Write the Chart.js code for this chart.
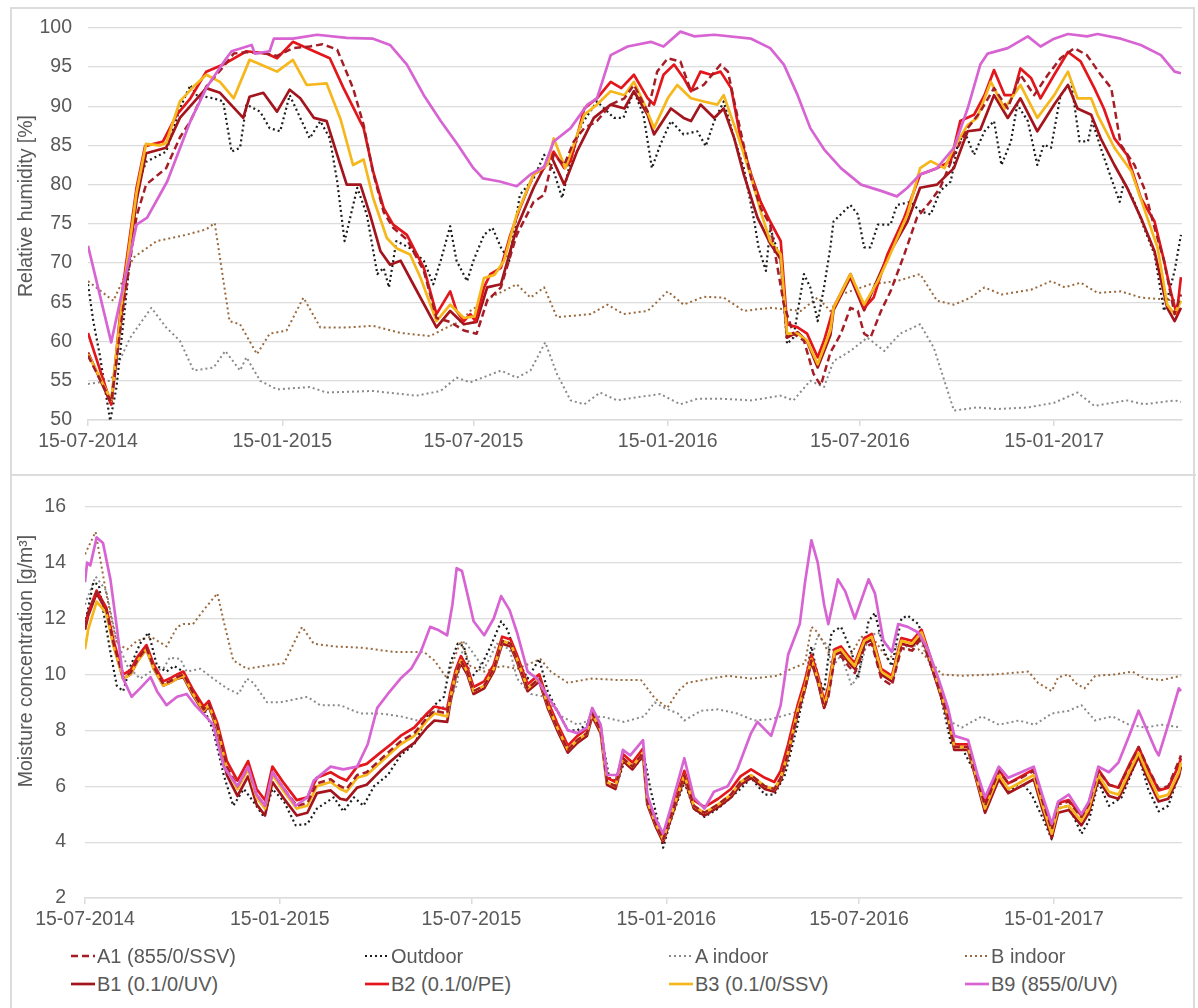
<!DOCTYPE html>
<html><head><meta charset="utf-8">
<script src="https://cdn.jsdelivr.net/npm/chart.js@4.4.1/dist/chart.umd.min.js"></script>
<style>
html,body{margin:0;padding:0;background:#fff;}
body{width:1198px;height:1008px;position:relative;overflow:hidden;font-family:"Liberation Sans",Arial,sans-serif;color:#595959;}
#frame{position:absolute;left:10px;top:7px;width:1185px;height:1020px;border:2px solid #dcdcdc;box-sizing:border-box;}
#sep{position:absolute;left:10px;top:474px;width:1186px;height:2px;background:#dcdcdc;}
#c1{position:absolute;left:0;top:0;}
#c2{position:absolute;left:0;top:476px;}
.ytitle{position:absolute;font-size:19.5px;line-height:1;white-space:nowrap;color:#595959;transform:translate(-50%,-50%) rotate(-90deg);}
.leg{position:absolute;font-size:20px;line-height:22px;white-space:nowrap;display:flex;align-items:center;}
.leg svg{margin-right:2px;}
</style></head>
<body>
<div id="frame"></div>
<div id="sep"></div>
<canvas id="c1" width="1198" height="470"></canvas>
<canvas id="c2" width="1198" height="470"></canvas>
<div class="ytitle" style="left:26px;top:206px;">Relative humidity [%]</div>
<div class="ytitle" style="left:26px;top:661px;">Moisture concentration [g/m³]</div>
<div id="legend"></div>
<script>
// ---------- tick labels (x = days since 15-07-2014) ----------
const tickDays = [0, 184, 365, 549, 731, 915];
const tickLabels = ['15-07-2014','15-01-2015','15-07-2015','15-01-2016','15-07-2016','15-01-2017'];
const seriesNames = ['A1 (855/0/SSV)','Outdoor','A indoor','B indoor','B1 (0.1/0/UV)','B2 (0.1/0/PE)','B3 (0.1/0/SSV)','B9 (855/0/UV)'];

// ---------- Relative humidity [%]  ([day, value]) ----------
const rhA1 = [[0,58.2],[22,52.3],[33,64],[46,76],[55,80],[74,82.1],[87,86],[97,88.1],[112,92.5],[128,95],[138,96.7],[150,96.9],[169,96.7],[179,96.4],[194,97.4],[210,97.6],[222,97.9],[236,97.2],[251,92.3],[261,87.6],[270,81.5],[280,76.5],[289,74.5],[302,73],[318,69],[330,63],[343,62.5],[356,61.4],[368,61],[378,65.2],[391,66.9],[406,73.6],[422,77.8],[432,78.7],[441,83.8],[451,82.5],[460,85.5],[470,87.2],[482,88.1],[495,90.2],[508,91],[517,92.7],[530,89.3],[539,94.4],[549,96.1],[561,95.7],[571,91.9],[583,92.7],[599,95.3],[606,94.4],[618,86.8],[628,80.8],[637,77],[646,74.9],[659,64.7],[668,61],[678,60.1],[687,55.9],[694,54.4],[703,58.6],[713,61],[722,64.3],[729,63.9],[735,61],[741,60.5],[751,63.9],[760,66.4],[773,71.1],[785,75.8],[798,77.9],[807,79.6],[820,83.8],[833,87.2],[845,89.3],[858,92.3],[871,89.7],[883,94],[896,91.4],[909,94],[921,96.1],[934,97.4],[946,96.5],[959,94],[969,92.3],[978,85.1],[991,82.5],[1000,79.6],[1010,74.5],[1019,70.3],[1029,63.5],[1035,66]];
const rhOutdoor = [[0,67.3],[5,62.6],[11,58.4],[21,49.9],[27,54.2],[37,66.9],[46,79.6],[55,82.9],[74,84.2],[87,89.7],[97,92.7],[103,91.4],[119,91],[128,90.6],[136,84.2],[144,84.7],[150,90.2],[163,89.3],[172,87.2],[182,86.8],[191,91.4],[201,88.5],[210,85.9],[220,88.1],[229,85.9],[236,80.4],[243,72.8],[255,79.6],[264,76.2],[274,68.6],[280,69.4],[285,66.9],[292,72.8],[305,71.9],[318,70.3],[327,67.3],[334,70.3],[343,74.7],[349,70.3],[359,67.7],[365,70.3],[375,73.6],[383,74.5],[391,72],[399,70.3],[409,78.7],[422,80.8],[432,83.8],[441,81.7],[449,78.3],[457,83],[467,87.6],[482,90.6],[498,88.5],[507,88.5],[517,91.9],[526,88.9],[534,82.1],[542,85.1],[552,88.1],[564,86.4],[577,86.8],[585,84.9],[593,88.1],[602,90.6],[612,85.9],[621,82.1],[631,75.3],[635,72],[642,69],[646,74.5],[656,70.3],[662,59.7],[668,60.5],[678,68.6],[684,66.9],[691,62.6],[697,66.9],[703,72],[706,75.3],[722,77.4],[729,76.2],[735,72],[741,72],[748,74.9],[760,74.9],[766,77.4],[779,77.8],[788,76.6],[798,76.2],[807,79.2],[817,80.4],[823,84.7],[830,86.8],[839,83.8],[849,86.8],[858,88.1],[865,82.5],[874,85.5],[880,90.2],[890,88.1],[899,82.5],[905,85.1],[912,84.7],[921,91.4],[931,93.1],[939,85.5],[947,85.5],[951,88.1],[959,84.7],[969,80.8],[977,77.8],[981,80.4],[991,77.8],[1000,74.5],[1010,71.1],[1019,63.9],[1029,69],[1035,73.6]];
const rhAIndoor = [[0,54.6],[21,55],[40,60.5],[60,64.3],[74,61.8],[87,60.1],[100,56.3],[119,56.7],[130,58.8],[144,56.3],[150,58],[163,55],[179,53.9],[210,54.2],[226,53.5],[270,53.7],[311,53.1],[334,53.7],[349,55.4],[362,54.8],[391,56.3],[406,55.4],[419,56.3],[433,59.9],[444,55.9],[457,52.5],[470,52],[485,53.5],[501,52.5],[520,52.9],[542,53.3],[561,52],[577,52.7],[602,52.7],[628,52.5],[656,53.1],[668,52.5],[684,55],[697,54.2],[706,57.5],[722,58.8],[738,60.5],[754,58.8],[769,61],[788,62.2],[801,59.2],[811,55],[820,51.2],[842,51.6],[861,51.4],[890,51.6],[915,52.2],[937,53.5],[953,51.8],[984,52.5],[1000,52],[1029,52.5],[1035,52.3]];
const rhBIndoor = [[0,67.7],[24,65.2],[43,70.7],[65,72.8],[93,73.6],[112,74.3],[120,75.1],[134,62.6],[144,62.2],[160,58.4],[172,61],[188,61.4],[204,65.6],[220,61.8],[245,61.8],[270,62],[296,61.1],[324,60.7],[340,61.8],[353,62.6],[362,63.9],[381,65.6],[406,67.3],[419,65.6],[432,66.9],[444,63.1],[476,63.5],[492,64.7],[507,63.5],[530,63.9],[549,66.4],[564,64.7],[583,65.7],[602,65.6],[621,63.9],[646,64.3],[675,63.9],[691,65.6],[703,63.9],[713,66],[741,67.3],[766,67.7],[788,68.6],[804,65.2],[820,64.7],[836,65.6],[849,66.9],[865,66],[893,66.6],[912,67.7],[925,66.9],[940,67.5],[956,66.2],[978,66.4],[997,65.6],[1035,65.2]];
const rhB1 = [[0,58.6],[22,52],[33,65],[46,78],[55,84],[74,84.7],[87,88.5],[112,92.3],[125,91.7],[147,88.5],[153,91.2],[166,91.7],[179,89.3],[191,92.1],[201,91],[214,88.5],[226,88.1],[236,83.8],[245,80],[258,80],[267,76.2],[277,71.5],[286,69.8],[296,70.3],[308,67.3],[330,61.8],[343,63.9],[356,62.2],[368,62.5],[378,66.9],[391,67.3],[406,74.5],[422,79.6],[438,83.8],[451,80],[463,84.2],[479,88.5],[495,90.2],[508,89.7],[517,91.9],[530,88.9],[536,86.4],[552,89.7],[564,88.5],[571,88.1],[580,90.2],[593,88.5],[602,89.7],[612,85.9],[621,81.3],[634,75.8],[646,72.5],[656,70.5],[662,60.5],[672,61.2],[681,60],[691,56.7],[703,60.8],[706,64],[722,68.2],[735,64],[757,70.8],[776,75.3],[788,79.6],[804,80],[820,82.1],[833,86.8],[845,87],[858,91.4],[871,88.5],[883,91],[899,86.8],[915,90.2],[928,92.7],[937,89.7],[950,88.9],[959,85.9],[972,82.5],[984,79.6],[997,75.8],[1010,71.5],[1022,64.3],[1029,62.6],[1035,64.3]];
const rhB2 = [[0,61.1],[22,52],[33,66.9],[46,79.6],[54,84.9],[71,85.5],[84,88.9],[97,91],[112,94.4],[128,95.3],[150,97],[169,96.7],[179,96.1],[194,98.2],[214,97],[229,96.1],[242,92.3],[261,87.2],[270,81.7],[280,77],[289,74.9],[302,73.6],[318,69.4],[330,63.5],[343,66.4],[349,63.9],[356,62.6],[362,63.5],[367,62.6],[375,66.9],[381,68.6],[391,69.4],[400,73.6],[409,77],[422,81.3],[432,82.1],[441,84.2],[451,82.1],[457,83],[470,89.7],[482,91],[495,93.1],[505,92.3],[517,94],[530,91],[536,90.2],[545,94],[555,95.3],[564,93.6],[571,91.9],[580,94.4],[590,94],[599,94.4],[609,92.3],[618,85.9],[628,81.3],[637,77.8],[646,75.3],[656,72.8],[662,62.2],[672,61.8],[681,61],[691,58],[697,60.1],[706,64.3],[722,68.6],[735,64.3],[744,65.6],[757,71.1],[773,75.8],[788,81.3],[804,82.1],[817,83],[826,88.1],[839,88.9],[849,91.4],[858,94.6],[868,91.4],[876,91.4],[883,94.8],[893,93.6],[902,91],[915,94],[928,96.9],[940,95.7],[953,92.3],[962,89.7],[972,85.9],[984,83.8],[997,78.3],[1010,75.3],[1019,70.3],[1026,66],[1031,63.5],[1035,68.2]];
const rhB3 = [[0,58.4],[22,52.5],[33,66],[46,79],[55,85.2],[68,85],[74,85.3],[87,90.6],[100,92.5],[112,94],[125,93.1],[138,91],[153,95.9],[169,95],[179,94.4],[194,95.9],[207,92.7],[226,92.9],[239,88.4],[251,82.5],[261,83.2],[270,78.3],[283,73.2],[292,71.9],[305,71.1],[315,68.1],[330,62.6],[343,64.7],[356,63],[366,63.2],[375,68.1],[385,68.5],[394,70.3],[406,76.2],[422,81.3],[435,82.5],[441,85.9],[452,82.1],[460,85.1],[470,88.9],[482,90.2],[495,91.9],[508,91.4],[517,93.1],[527,90.2],[536,87.2],[549,91],[558,92.7],[571,91],[583,90.6],[596,90.2],[602,91.4],[615,86.4],[628,81],[637,76.6],[646,72.8],[656,71.1],[662,61],[672,61],[681,60.1],[691,57.1],[703,61.4],[706,64.3],[722,68.6],[735,64.7],[748,67.7],[757,70.3],[776,76.2],[788,82.1],[798,83],[811,82.1],[820,84.7],[833,87.6],[842,88.5],[855,93.1],[868,89.7],[883,92.7],[899,88.5],[915,91.4],[928,94.4],[937,91],[950,91],[956,88.9],[972,84.7],[988,81.7],[1000,77],[1013,71.9],[1022,64.7],[1029,63.5],[1035,65.2]];
const rhB9 = [[0,72.2],[22,59.9],[46,74.9],[56,75.8],[75,80.4],[97,88.1],[112,92.3],[131,96.1],[136,97],[155,97.8],[158,96.7],[172,97],[176,98.6],[194,98.6],[217,99.1],[245,98.7],[270,98.6],[286,97.8],[302,95.3],[318,91.4],[334,88.1],[349,85.3],[365,82.1],[374,80.8],[390,80.4],[406,79.8],[419,81.3],[432,82.3],[441,85.5],[457,87.2],[473,90.2],[482,91],[495,96.5],[511,97.6],[533,98.2],[545,97.6],[561,99.5],[574,98.9],[593,99.1],[628,98.6],[646,97.4],[659,95.3],[672,91.4],[684,87.2],[697,84.5],[713,82.1],[732,80],[751,79.2],[766,78.5],[776,79.6],[788,81.3],[804,82.1],[820,84.7],[833,89.7],[845,95.3],[852,96.7],[871,97.4],[890,98.9],[902,97.6],[915,98.6],[928,99.2],[946,98.9],[956,99.2],[978,98.6],[997,97.8],[1016,96.5],[1029,94.4],[1035,94.2]];

// ---------- Moisture concentration [g/m3] ----------
const mcDays = [0,3,11,20,27,36,43,50,58,65,74,80,87,93,102,112,117,125,134,144,154,162,170,177,188,200,210,219,232,241,247,257,266,279,289,298,311,323,330,342,345,350,355,361,367,377,386,394,402,408,418,429,437,446,456,465,474,479,487,493,501,508,517,527,531,539,546,553,566,575,585,598,610,619,629,642,651,657,664,673,680,686,692,698,702,708,714,721,727,736,743,752,762,771,781,790,796,806,815,821,834,843,850,863,872,884,896,904,913,919,929,941,948,957,967,976,986,995,1004,1014,1023,1033,1035];
const mcA1 = [11.7,12.2,12.95,12.35,11.1,9.9,10.05,10.55,10.95,10.25,9.65,9.75,9.9,10.0,9.35,8.75,8.95,8.15,6.7,6.0,6.7,5.7,5.3,6.5,5.9,5.3,5.4,6.1,6.25,6.0,5.9,6.4,6.5,6.95,7.3,7.6,7.9,8.45,8.7,8.6,9.15,10.0,10.5,10.1,9.4,9.6,10.2,11.2,11.1,10.55,9.5,9.85,8.9,8.1,7.3,7.65,7.9,8.6,8.0,6.15,6.0,7.0,6.7,7.2,5.45,4.65,4.1,4.9,6.4,5.3,5.05,5.35,5.7,6.15,6.4,6.0,5.9,6.3,7.2,8.6,9.5,10.5,9.8,8.8,9.2,10.55,10.65,10.3,10.05,10.95,11.1,9.85,9.6,10.95,10.85,11.3,10.65,9.55,8.5,7.4,7.4,6.2,5.3,6.55,6.1,6.3,6.55,5.5,4.45,5.35,5.45,4.9,5.35,6.55,6.05,5.95,6.7,7.4,6.65,5.9,6.0,6.9,7.1];
const mcB1 = [11.6,12.1,12.9,12.3,11.05,9.85,10.0,10.5,10.9,10.2,9.6,9.7,9.85,9.9,9.25,8.65,8.85,8.0,6.4,5.65,6.35,5.35,4.95,6.15,5.55,4.95,5.05,5.75,5.85,5.55,5.5,5.95,6.05,6.55,6.9,7.2,7.55,8.1,8.35,8.3,9.0,9.9,10.4,10.0,9.3,9.5,10.1,11.1,11.0,10.45,9.4,9.75,8.8,8.0,7.2,7.55,7.8,8.5,7.9,6.05,5.9,6.9,6.6,7.1,5.35,4.55,4.0,4.8,6.3,5.2,4.95,5.25,5.6,6.05,6.3,5.9,5.8,6.2,7.1,8.6,9.5,10.45,9.75,8.8,9.3,10.7,10.8,10.45,10.2,11.1,11.25,10.0,9.75,11.1,11.0,11.4,10.7,9.5,8.4,7.3,7.3,6.05,5.05,6.25,5.75,6.0,6.25,5.2,4.15,5.05,5.15,4.6,5.05,6.25,5.65,5.55,6.35,7.05,6.25,5.45,5.55,6.35,6.7];
const mcB2 = [11.7,12.2,13.0,12.4,11.2,10.0,10.15,10.65,11.05,10.35,9.75,9.85,10.0,10.1,9.45,8.85,9.05,8.25,6.9,6.2,6.9,5.9,5.5,6.7,6.1,5.5,5.6,6.3,6.5,6.3,6.2,6.7,6.8,7.2,7.5,7.8,8.1,8.6,8.85,8.75,9.35,10.15,10.65,10.25,9.55,9.75,10.35,11.35,11.25,10.7,9.65,10.0,9.05,8.25,7.45,7.8,8.05,8.75,8.15,6.3,6.15,7.15,6.85,7.35,5.6,4.8,4.25,5.05,6.55,5.5,5.25,5.55,5.9,6.35,6.6,6.3,6.15,6.55,7.5,8.9,9.8,10.7,10.0,9.05,9.55,10.9,11.0,10.65,10.4,11.3,11.45,10.2,9.95,11.3,11.2,11.6,10.9,9.7,8.6,7.5,7.5,6.3,5.4,6.6,6.1,6.35,6.6,5.55,4.5,5.4,5.5,4.95,5.4,6.6,6.05,5.95,6.75,7.4,6.6,5.85,5.95,6.75,7.0];
const mcB3 = [10.9,11.6,12.6,12.2,11,9.85,10,10.5,10.9,10.2,9.6,9.7,9.85,9.95,9.3,8.7,8.9,8.1,6.6,5.9,6.6,5.6,5.2,6.4,5.8,5.2,5.3,6.0,6.15,5.9,5.8,6.3,6.4,6.85,7.2,7.5,7.8,8.35,8.6,8.5,9.15,10,10.5,10.1,9.4,9.6,10.2,11.2,11.1,10.55,9.5,9.85,8.9,8.1,7.3,7.65,7.9,8.6,8.0,6.15,6.0,7.0,6.7,7.2,5.45,4.65,4.1,4.9,6.4,5.3,5.05,5.35,5.7,6.15,6.4,6.0,5.9,6.3,7.2,8.7,9.6,10.55,9.85,8.9,9.4,10.8,10.9,10.55,10.3,11.2,11.35,10.1,9.85,11.2,11.1,11.5,10.8,9.6,8.5,7.4,7.4,6.15,5.2,6.4,5.9,6.15,6.4,5.35,4.3,5.2,5.3,4.75,5.2,6.4,5.8,5.7,6.5,7.2,6.4,5.6,5.7,6.5,6.85];
const mcOutdoor = [[0,11.8],[8,13.3],[13,13.2],[19,11.9],[24,10.8],[30,9.6],[36,9.4],[43,10.3],[52,11.1],[60,11.5],[68,10.3],[77,10.1],[84,10.3],[93,10.1],[102,9.3],[112,8.8],[121,8.0],[131,6.4],[140,5.3],[150,5.9],[159,5.45],[169,4.9],[177,5.9],[188,5.45],[199,4.6],[210,4.65],[219,5.2],[235,5.6],[244,5.1],[254,5.6],[263,5.3],[273,6.0],[286,6.4],[298,7.1],[311,7.5],[323,8.5],[330,8.9],[339,9.2],[345,10.4],[352,11.1],[358,11],[364,9.85],[374,10.3],[383,11],[393,11.9],[399,11.6],[408,10.55],[418,9.85],[429,10.55],[437,9.4],[446,8.7],[456,8.0],[465,8.0],[474,8.2],[479,8.7],[487,8.0],[495,6.3],[503,6.15],[509,6.85],[519,6.7],[528,7.1],[534,5.9],[541,4.75],[546,3.8],[553,4.75],[566,6.15],[575,5.2],[585,4.9],[598,5.2],[610,5.6],[619,5.9],[629,6.3],[642,5.7],[651,5.7],[661,6.4],[673,8.2],[680,9.7],[686,11],[692,9.95],[698,9.4],[705,11.5],[714,11.7],[724,10.8],[730,9.85],[740,11.9],[746,12.2],[755,10.8],[762,10.3],[771,12],[777,12.1],[787,11.8],[796,10.8],[806,9.6],[818,7.5],[828,7.4],[840,6.5],[850,5.1],[863,6.4],[872,5.8],[884,6.15],[894,5.7],[904,4.9],[913,4.1],[919,5.2],[929,5.3],[941,4.3],[948,4.75],[957,6.15],[967,5.3],[979,5.6],[995,7.1],[1004,5.9],[1014,5.1],[1023,5.3],[1033,6.4],[1035,6.7]];
const mcAIndoor = [[0,12.5],[10,13.5],[20,13],[30,11.2],[40,10.3],[52,9.85],[62,10.1],[74,10.2],[80,10.6],[90,10.55],[96,10.1],[109,10.2],[121,9.85],[134,9.5],[145,9.3],[153,9.85],[159,9.7],[172,9.0],[184,9.0],[210,9.2],[222,8.9],[241,8.9],[260,8.6],[279,8.6],[298,8.5],[314,8.35],[326,8.6],[342,8.9],[351,9.6],[358,11.2],[364,10.9],[377,10.2],[389,11.1],[401,10.9],[408,9.85],[421,9.3],[434,9.2],[450,8.5],[465,8.2],[487,8.5],[509,8.3],[528,8.5],[538,9.0],[547,8.8],[560,8.6],[566,8.35],[582,8.7],[598,8.75],[616,8.6],[632,8.35],[648,8.4],[667,8.6],[676,8.7],[686,10.5],[692,11.4],[702,11],[705,10.2],[714,10.7],[724,9.6],[730,9.95],[740,11.35],[749,11.5],[762,10.8],[771,11.2],[781,10.8],[787,11.35],[796,10.55],[806,9.5],[815,8.35],[828,8.1],[847,8.5],[863,8.2],[882,8.35],[897,8.2],[913,8.6],[929,8.7],[941,8.9],[954,8.35],[970,8.5],[986,8.2],[1001,8.1],[1017,8.2],[1035,8.1]];
const mcBIndoor = [[0,14.3],[10,15.1],[20,12.9],[30,11.1],[40,10.9],[49,11.2],[62,11.35],[77,11],[87,11.7],[93,11.8],[102,11.8],[112,12.3],[125,12.9],[131,11.9],[140,10.5],[153,10.2],[169,10.3],[188,10.4],[197,11.1],[205,11.7],[216,11.1],[235,11],[263,10.95],[292,10.8],[320,10.8],[330,10.5],[342,9.85],[351,10.8],[355,11.2],[364,10.3],[377,10.1],[393,10.3],[408,10.2],[421,10.4],[430,10.55],[440,10.1],[456,9.7],[478,9.85],[503,9.8],[525,9.8],[538,9.15],[550,8.8],[560,9.4],[569,9.7],[591,9.85],[607,9.95],[629,9.85],[654,9.95],[667,10.2],[680,10.4],[686,11.7],[692,11.5],[702,10.8],[708,10.9],[721,10.55],[733,11.35],[746,11.2],[758,10.55],[771,10.9],[787,10.9],[800,10.4],[809,10],[828,9.95],[859,10],[891,10.1],[900,9.7],[913,9.4],[919,9.9],[929,10],[935,9.7],[944,9.5],[954,9.95],[973,10],[989,10.1],[1001,9.85],[1017,9.8],[1035,9.95]];
const mcB9 = [[0,13.3],[2,14],[5,13.9],[11,14.9],[17,14.7],[24,13.4],[30,11.7],[36,9.85],[44,9.2],[52,9.5],[62,9.9],[68,9.4],[77,8.9],[87,9.2],[96,9.3],[104,8.9],[114,8.5],[121,8.2],[131,6.7],[144,6.0],[154,6.7],[162,5.7],[170,5.3],[177,6.5],[188,5.9],[199,5.3],[210,5.6],[216,6.2],[232,6.7],[244,6.6],[257,6.7],[267,7.5],[276,8.8],[286,9.3],[298,9.85],[308,10.2],[317,10.8],[326,11.7],[333,11.6],[342,11.4],[347,12.5],[351,13.8],[356,13.7],[361,12.9],[367,11.9],[377,11.4],[386,12],[393,12.8],[401,12.3],[408,11.5],[418,10.1],[427,9.85],[437,9.2],[446,8.7],[456,8.0],[465,7.9],[474,8.1],[479,8.8],[487,8.2],[493,6.4],[503,6.4],[508,7.3],[515,7.1],[527,7.65],[531,5.7],[538,4.9],[546,4.3],[553,5.2],[566,7.0],[575,5.6],[585,5.2],[594,5.8],[607,6.0],[616,6.6],[629,7.9],[635,8.3],[648,7.8],[657,8.9],[664,10.7],[675,11.8],[680,13.3],[686,14.8],[692,14],[698,12.5],[702,11.8],[711,13.4],[718,12.97],[727,12],[740,13.4],[746,12.9],[754,11.2],[762,10.8],[768,11.8],[777,11.7],[787,11.5],[796,10.9],[806,9.85],[815,8.8],[821,7.8],[834,7.65],[843,6.4],[850,5.6],[863,6.7],[872,6.3],[884,6.5],[896,6.7],[904,5.7],[913,4.65],[919,5.45],[929,5.7],[941,5.0],[948,5.45],[957,6.7],[967,6.5],[976,6.85],[986,7.8],[995,8.7],[1003,8.0],[1011,7.3],[1014,7.1],[1023,8.2],[1033,9.5],[1035,9.4]];

// ---------- styles ----------
const styles = {
  'A1 (855/0/SSV)': {color:'#a51d26', width:2.5, dash:[7,4], order:2},
  'Outdoor':        {color:'#1c1c1c', width:2.2, dash:[2,3], order:6},
  'A indoor':       {color:'#8a8a8a', width:2,   dash:[2,3], order:8},
  'B indoor':       {color:'#9a6a3e', width:2,   dash:[2,3], order:7},
  'B1 (0.1/0/UV)':  {color:'#a3141c', width:2.7, dash:[],    order:5},
  'B2 (0.1/0/PE)':  {color:'#e3161c', width:2.7, dash:[],    order:4},
  'B3 (0.1/0/SSV)': {color:'#f6b71c', width:2.7, dash:[],    order:3},
  'B9 (855/0/UV)':  {color:'#d764d2', width:2.7, dash:[],    order:1}
};
const pairs = a => a.map(p => ({x:p[0], y:p[1]}));
const zip = (d, v) => d.map((x,i) => ({x, y:v[i]}));

function ds(name, data){
  const s = styles[name];
  return {label:name, data, borderColor:s.color, backgroundColor:s.color, borderWidth:s.width,
    borderDash:s.dash, pointRadius:0, pointHoverRadius:0, tension:0, fill:false, order:s.order,
    borderCapStyle:'butt', borderJoinStyle:'round'};
}

const topSets = [
  ds('A1 (855/0/SSV)', pairs(rhA1)), ds('Outdoor', pairs(rhOutdoor)), ds('A indoor', pairs(rhAIndoor)),
  ds('B indoor', pairs(rhBIndoor)), ds('B1 (0.1/0/UV)', pairs(rhB1)), ds('B2 (0.1/0/PE)', pairs(rhB2)),
  ds('B3 (0.1/0/SSV)', pairs(rhB3)), ds('B9 (855/0/UV)', pairs(rhB9))
];
const botSets = [
  ds('A1 (855/0/SSV)', zip(mcDays, mcA1)), ds('Outdoor', pairs(mcOutdoor)), ds('A indoor', pairs(mcAIndoor)),
  ds('B indoor', pairs(mcBIndoor)), ds('B1 (0.1/0/UV)', zip(mcDays, mcB1)), ds('B2 (0.1/0/PE)', zip(mcDays, mcB2)),
  ds('B3 (0.1/0/SSV)', zip(mcDays, mcB3)), ds('B9 (855/0/UV)', pairs(mcB9))
];

const GRID = '#dcdcdc', TXT = '#595959', FONT = '"Liberation Sans", Arial, sans-serif';

function makeOpts(o){
  return {
    responsive:false, animation:false, events:[],
    layout:{padding:{left:12, right:16, top:o.padTop, bottom:0}},
    plugins:{legend:{display:false}, tooltip:{enabled:false}},
    scales:{
      x:{type:'linear', min:0, max:1036,
        afterBuildTicks: s => { s.ticks = tickDays.map(v => ({value:v})); },
        afterFit: s => { s.height = o.xH; },
        ticks:{autoSkip:false, maxRotation:0, color:TXT, font:{family:FONT, size:19.5}, padding:o.xPad,
          callback:(v) => { const i = tickDays.indexOf(v); return i >= 0 ? tickLabels[i] : ''; }},
        grid:{drawOnChartArea:false, drawTicks:true, tickLength:6, color:GRID, lineWidth:1.5},
        border:{display:true, color:GRID, width:1.5}
      },
      y:{min:o.min, max:o.max,
        afterFit: s => { s.width = o.yW; },
        ticks:{stepSize:o.step, color:TXT, font:{family:FONT, size:19.5}, padding:o.yPad},
        grid:{color:GRID, lineWidth:1.2, drawTicks:false},
        border:{display:false},
        title:{display:false}
      }
    }
  };
}

new Chart(document.getElementById('c1'), {type:'line', data:{datasets:topSets},
  options:makeOpts({padTop:26, xH:50, xPad:4, min:50, max:100, step:5, yW:76, yPad:16})});
new Chart(document.getElementById('c2'), {type:'line', data:{datasets:botSets},
  options:makeOpts({padTop:18, xH:48, xPad:4, min:2, max:16, step:2, yW:73, yPad:19})});

// ---------- legend (HTML) ----------
const legendPos = [[71,956],[365,956],[669,956],[965,956],[71,984],[365,984],[669,984],[965,984]];
const legEl = document.getElementById('legend');
seriesNames.forEach((n, i) => {
  const s = styles[n];
  const d = document.createElement('div');
  d.className = 'leg';
  d.style.left = legendPos[i][0] + 'px';
  d.style.top = (legendPos[i][1] - 11) + 'px';
  const dash = s.dash.length ? `stroke-dasharray="${s.dash.join(',')}"` : '';
  d.innerHTML = `<svg width="24" height="10"><line x1="0" y1="5" x2="24" y2="5" stroke="${s.color}" stroke-width="${s.width}" ${dash}/></svg><span>${n}</span>`;
  legEl.appendChild(d);
});
</script>
</body></html>
